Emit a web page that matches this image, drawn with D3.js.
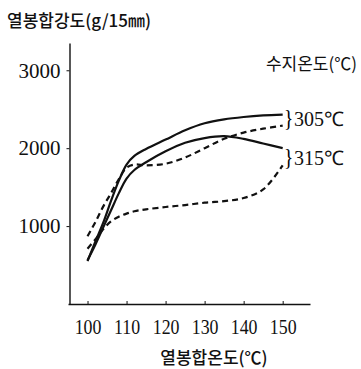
<!DOCTYPE html>
<html>
<head>
<meta charset="utf-8">
<script src="https://cdn.jsdelivr.net/npm/d3@7"></script>
<style>
  body { margin: 0; background: #fff; }
  svg { display: block; }
  .tick text { font-family: "Liberation Serif", "DejaVu Serif", serif; font-size: 21px; fill: #111; }
  .ttl { font-family: "Noto Sans CJK KR", sans-serif; fill: #111; }
</style>
</head>
<body>
<div class="graph"></div>
<script>
// chart values
const xTicks = [100, 110, 120, 130, 140, 150];
const yTicks = [1000, 2000, 3000];

const temps = [100, 102, 104, 106, 108, 110, 112, 115, 120, 125, 130, 135, 140, 145, 150];
const solid305 = [550, 800, 1040, 1320, 1580, 1790, 1900, 1990, 2110, 2230, 2320, 2370, 2400, 2420, 2430];
const dash305 = [870, 1050, 1250, 1420, 1600, 1750, 1790, 1780, 1800, 1880, 2000, 2120, 2200, 2250, 2290];
const solid315 = [560, 760, 980, 1200, 1420, 1610, 1720, 1820, 1960, 2070, 2130, 2155, 2120, 2060, 2000];
const dash315 = [710, 830, 960, 1060, 1120, 1160, 1190, 1215, 1245, 1270, 1300, 1320, 1360, 1470, 1780];

const svg_dimensions = { width: 361, height: 369 };

const svg = d3.select('.graph').append('svg')
    .attr('width', svg_dimensions.width)
    .attr('height', svg_dimensions.height);

const x = d3.scaleLinear().domain([95, 157]).range([68, 310]);
const y = d3.scaleLinear().domain([0, 3350]).range([304, 43]);

// axes
const xAxis = d3.axisBottom(x).tickValues(xTicks).tickSizeInner(-3).tickSizeOuter(0).tickPadding(15);
const yAxis = d3.axisLeft(y).tickValues(yTicks).tickFormat(d3.format('d'))
    .tickSizeInner(3).tickSizeOuter(0).tickPadding(6);

const gx = svg.append('g').attr('transform', 'translate(0,304)').call(xAxis);
gx.selectAll('text').attr('transform', 'scale(0.85,1)');
const gy = svg.append('g').attr('transform', 'translate(69.5,0)').call(yAxis);
svg.selectAll('.domain').attr('stroke', '#111').attr('stroke-width', 1.4);
svg.selectAll('.tick line').attr('stroke', '#111');

// curves
const line = d3.line()
    .x((d, i) => x(temps[i]))
    .y(d => y(d))
    .curve(d3.curveCatmullRom.alpha(0.5));

const series = [
    { values: solid305, dash: null },
    { values: dash305, dash: '6,4' },
    { values: solid315, dash: null },
    { values: dash315, dash: '6,4' }
];

svg.selectAll('path.curve')
    .data(series).enter().append('path')
    .attr('class', 'curve')
    .attr('d', d => line(d.values))
    .attr('fill', 'none')
    .attr('stroke', '#111')
    .attr('stroke-width', 2.2)
    .attr('stroke-dasharray', d => d.dash);

// titles
svg.append('text').attr('class', 'ttl')
    .attr('x', 7).attr('y', 27)
    .attr('font-size', 17).attr('font-weight', 500)
    .text('열봉합강도(g/15㎜)');

svg.append('text').attr('class', 'ttl')
    .attr('x', 214).attr('y', 364)
    .attr('text-anchor', 'middle')
    .attr('font-size', 17).attr('font-weight', 500)
    .text('열봉합온도(℃)');

svg.append('text').attr('class', 'ttl')
    .attr('x', 357).attr('y', 70)
    .attr('text-anchor', 'end')
    .attr('font-size', 17)
    .text('수지온도(℃)');

// series labels with braces
const labels = [
    { text: '305℃', value: 2380 },
    { text: '315℃', value: 1880 }
];
labels.forEach(l => {
    const g = svg.append('g').attr('transform', 'translate(284,' + y(l.value) + ')');
    g.append('text')
        .attr('y', 7)
        .attr('font-family', 'Liberation Serif, serif')
        .attr('font-size', 24)
        .attr('transform', 'scale(0.8,1)')
        .text('}');
    g.append('text')
        .attr('x', 10).attr('y', 7)
        .attr('font-family', 'Liberation Serif, serif')
        .attr('font-size', 20)
        .attr('fill', '#111')
        .text(l.text);
});
</script>
</body>
</html>
